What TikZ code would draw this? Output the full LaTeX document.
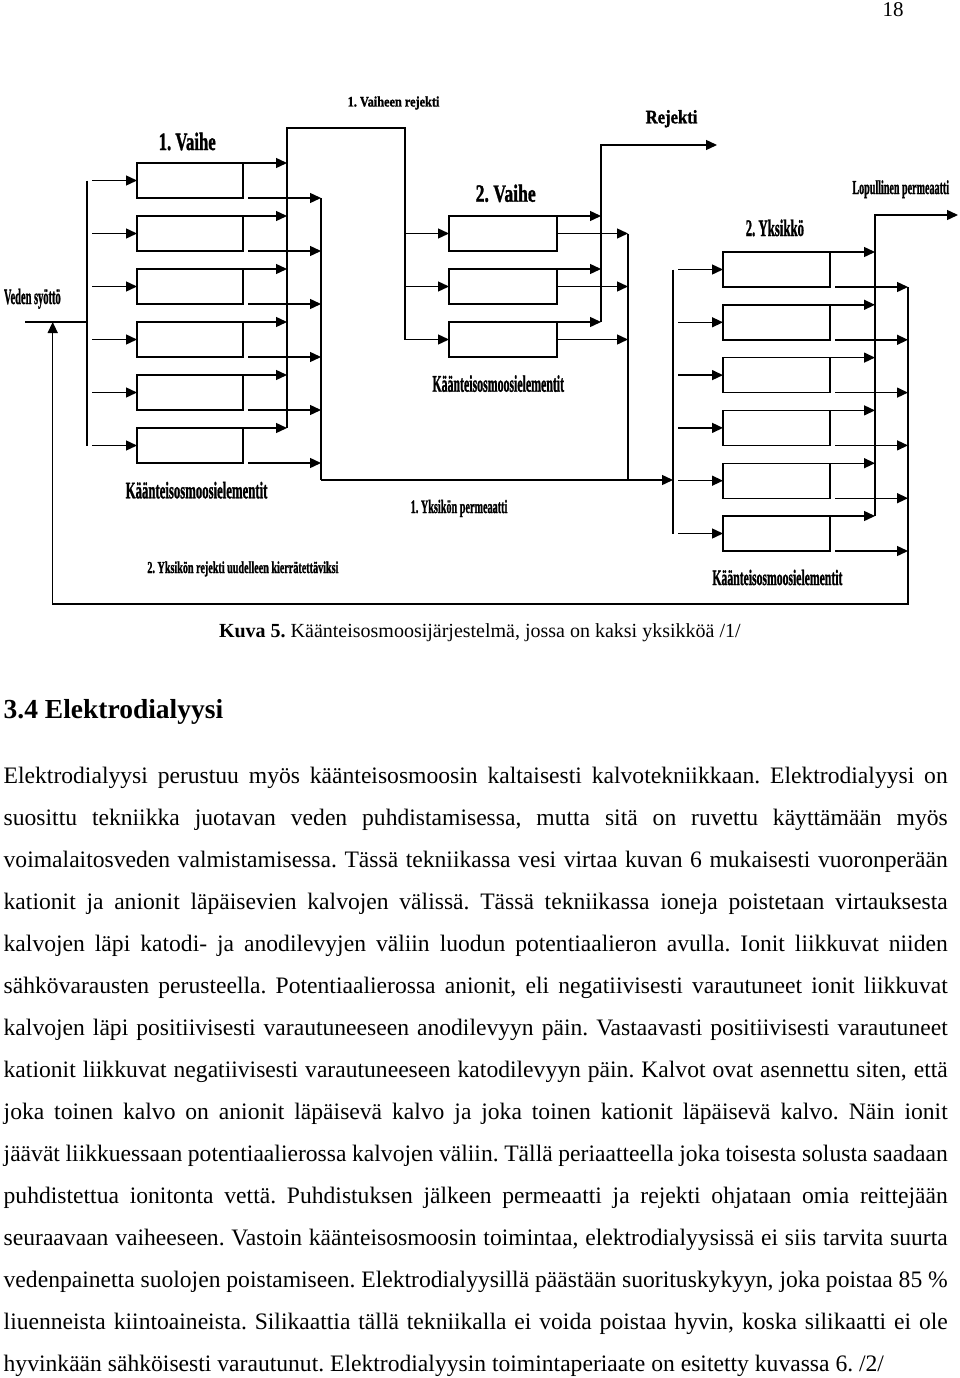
\documentclass[tikz,border=0pt]{standalone}
\usepackage{fontspec}
\setmainfont{Liberation Serif}
\newfontfamily\heavyfont{Liberation Serif}[BoldFeatures={FakeBold=1.6}]
\usepackage{graphicx}
\usetikzlibrary{arrows.meta, calc, positioning}

\newcommand{\fsz}[1]{\fontsize{#1}{#1}\selectfont}
\newcommand{\squeeze}[2]{\resizebox{#1}{\height}{#2}}
\frenchspacing

\begin{document}
\begin{tikzpicture}[
    x=1pt, y=-1pt,
    line width=1.4pt,
    >={Triangle[length=11pt,width=10pt]},
    elem/.style={draw, rectangle, minimum height=35pt, inner sep=0pt, outer sep=0pt},
    tag/.style={inner sep=0pt, anchor=base west},
    lbl/.style={tag, font=\heavyfont\bfseries\fsz{#1}},
    body/.style={inner sep=0pt, anchor=base west, font=\fsz{23.6}}
]
    \useasboundingbox (0,0) rectangle (960,1378);

    % Columns and rows of the piping
    \coordinate (hd1) at (87,0);
    \coordinate (rj1) at (287,0);
    \coordinate (pm1) at (321,0);
    \coordinate (hdq) at (405,0);
    \coordinate (rj2) at (601,0);
    \coordinate (pm2) at (628,0);
    \coordinate (hd2) at (673,0);
    \coordinate (out1) at (875,0);
    \coordinate (out2) at (908,0);
    \coordinate (rc) at (52.7,0);
    \coordinate (r1) at (0,128);
    \coordinate (r2) at (0,145);
    \coordinate (r3) at (0,215);
    \coordinate (r4) at (0,480);
    \coordinate (r5) at (0,604);
    \coordinate (feed) at (25,322);
    \coordinate (rejend) at (717,145);
    \coordinate (finend) at (958,215);

    % Elements: stage 1, stage 2, unit 2
    \foreach \i in {1,...,6}
        \node[elem, minimum width=106pt, anchor=north west] (p\i) at (137,{163+53*(\i-1)}) {};
    \foreach \i in {1,2,3}
        \node[elem, minimum width=108pt, anchor=north west] (q\i) at (449,{216+53*(\i-1)}) {};
    \foreach \i in {1,...,6}
        \node[elem, minimum width=107pt, anchor=north west] (u\i) at (723,{252+52.8*(\i-1)}) {};

    % Feed into stage 1
    \draw (feed) -- (feed -| hd1);
    \draw (p1.west -| hd1) -- (p6.west -| hd1);
    \foreach \i in {1,...,6}
        \draw[->] ($(p\i.west -| hd1)+(5,0)$) -- (p\i.west);

    % Stage 1 reject goes on to stage 2
    \foreach \i in {1,...,6}
        \draw[->] (p\i.north east) -- (p\i.north -| rj1);
    \draw (p6.north -| rj1) -- (rj1 |- r1) -- (hdq |- r1) -- (q3.west -| hdq);
    \foreach \i in {1,2,3}
        \draw[->] (q\i.west -| hdq) -- (q\i.west);

    % Stage 1 permeate
    \foreach \i in {1,...,6}
        \draw[->] ($(p\i.south east)+(5,0)$) -- (p\i.south -| pm1);
    \draw (p1.south -| pm1) -- (pm1 |- r4);
    \draw[->] (pm1 |- r4) -- (hd2 |- r4);

    % Stage 2 outputs
    \foreach \i in {1,2,3} {
        \draw[->] (q\i.north east) -- (q\i.north -| rj2);
        \draw[->] (q\i.east) -- (q\i.east -| pm2);
    }
    \draw[->] (q3.north -| rj2) -- (rj2 |- r2) -- (rejend);
    \draw (q1.east -| pm2) -- (pm2 |- r4);

    % Unit 2
    \draw (u1.west -| hd2) -- (u6.west -| hd2);
    \foreach \i in {1,...,6} {
        \draw[->] ($(u\i.west -| hd2)+(5,0)$) -- (u\i.west);
        \draw[->] (u\i.north east) -- (u\i.north -| out1);
        \draw[->] ($(u\i.south east)+(5,0)$) -- (u\i.south -| out2);
    }
    \draw[->] (u6.north -| out1) -- (out1 |- r3) -- (finend);
    % Unit 2 reject back to the feed
    \draw[->] (u1.south -| out2) -- (out2 |- r5) -- (rc |- r5) -- (feed -| rc);

    % Labels
    \node[lbl=25] (lvaihe1) at (158,150) {\squeeze{57pt}{1. Vaihe}};
    \node[lbl=14.5] (lrej1) at (347,106.5) {\squeeze{91.7pt}{1. Vaiheen rejekti}};
    \node[lbl=24.7] (lvaihe2) at (475,201.7) {\squeeze{60pt}{2. Vaihe}};
    \node[lbl=19] (lrej) at (645,123.3) {\squeeze{51.7pt}{Rejekti}};
    \node[lbl=19.7] (lfin) at (851.7,194) {\squeeze{96.7pt}{Lopullinen permeaatti}};
    \node[lbl=23.7] (lyks2) at (745,236) {\squeeze{58.3pt}{2. Yksikkö}};
    \node[lbl=22] (lfeed) at (3.3,304) {\squeeze{56.7pt}{Veden syöttö}};
    \node[lbl=23.7] (lel1) at (125,498.3) {\squeeze{141.7pt}{Käänteisosmoosielementit}};
    \node[lbl=23.7] (lel2) at (431.7,391.7) {\squeeze{131.7pt}{Käänteisosmoosielementit}};
    \node[lbl=22] (lel3) at (711.7,585) {\squeeze{130pt}{Käänteisosmoosielementit}};
    \node[lbl=19] (lperm1) at (410,513) {\squeeze{96.7pt}{1. Yksikön permeaatti}};
    \node[lbl=16.7] (lrec) at (146.7,573) {\squeeze{191pt}{2. Yksikön rejekti uudelleen kierrätettäviksi}};

    % Page text
    \node[tag, font=\fsz{21}] (pnum) at (882,17) {18};
    \node[tag, font=\fsz{20}] (cap) at (218.3,637.7) {\textbf{Kuva 5.} Käänteisosmoosijärjestelmä, jossa on kaksi yksikköä /1/};
    \node[tag, font=\bfseries\fsz{27.5}] (sec) at (3,718) {3.4 Elektrodialyysi};
    \foreach \ltxt [count=\k] in {
        {Elektrodialyysi perustuu myös käänteisosmoosin kaltaisesti kalvotekniikkaan. Elektrodialyysi on},
        {suosittu tekniikka juotavan veden puhdistamisessa, mutta sitä on ruvettu käyttämään myös},
        {voimalaitosveden valmistamisessa. Tässä tekniikassa vesi virtaa kuvan 6 mukaisesti vuoronperään},
        {kationit ja anionit läpäisevien kalvojen välissä. Tässä tekniikassa ioneja poistetaan virtauksesta},
        {kalvojen läpi katodi- ja anodilevyjen väliin luodun potentiaalieron avulla. Ionit liikkuvat niiden},
        {sähkövarausten perusteella. Potentiaalierossa anionit, eli negatiivisesti varautuneet ionit liikkuvat},
        {kalvojen läpi positiivisesti varautuneeseen anodilevyyn päin. Vastaavasti positiivisesti varautuneet},
        {kationit liikkuvat negatiivisesti varautuneeseen katodilevyyn päin. Kalvot ovat asennettu siten, että},
        {joka toinen kalvo on anionit läpäisevä kalvo ja joka toinen kationit läpäisevä kalvo. Näin ionit},
        {jäävät liikkuessaan potentiaalierossa kalvojen väliin. Tällä periaatteella joka toisesta solusta saadaan},
        {puhdistettua ionitonta vettä. Puhdistuksen jälkeen permeaatti ja rejekti ohjataan omia reittejään},
        {seuraavaan vaiheeseen. Vastoin käänteisosmoosin toimintaa, elektrodialyysissä ei siis tarvita suurta},
        {vedenpainetta suolojen poistamiseen. Elektrodialyysillä päästään suorituskykyyn, joka poistaa 85 \%},
        {liuenneista kiintoaineista. Silikaattia tällä tekniikalla ei voida poistaa hyvin, koska silikaatti ei ole}}
        \node[body] (line\k) at (3,{783+42*(\k-1)}) {\makebox[944pt][s]{\ltxt}};
    \node[body] (line15) at (3,1371) {hyvinkään sähköisesti varautunut. Elektrodialyysin toimintaperiaate on esitetty kuvassa 6. /2/};
\end{tikzpicture}
\end{document}
